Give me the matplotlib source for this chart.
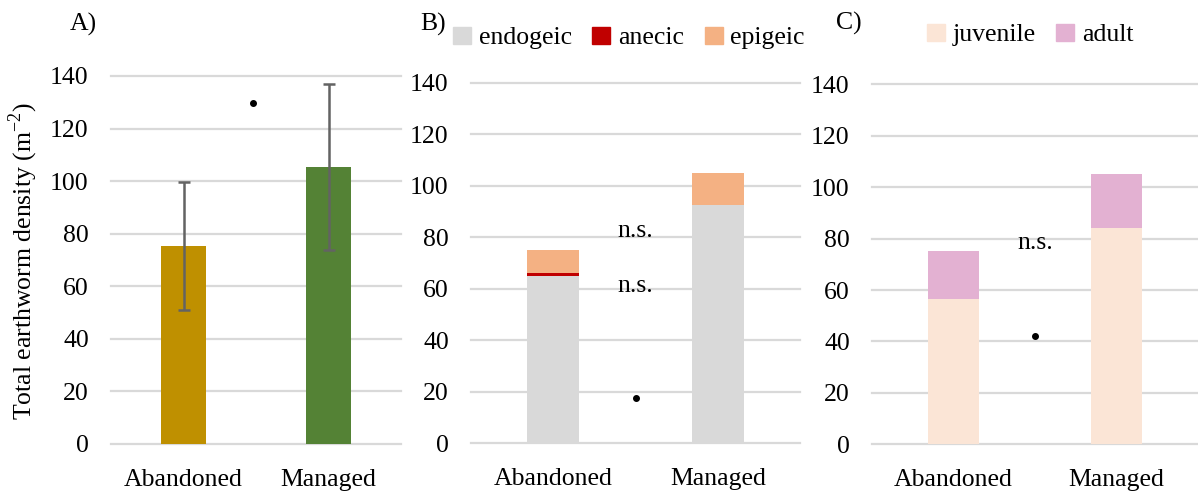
import matplotlib
matplotlib.use("Agg")
import matplotlib.pyplot as plt
from matplotlib.patches import Patch

plt.rcParams['font.family'] = ['Liberation Serif', 'DejaVu Serif']
plt.rcParams['mathtext.fontset'] = 'custom'
plt.rcParams['mathtext.rm'] = 'Liberation Serif'

# ---- data ----
categories = ["Abandoned", "Managed"]
total_density = [75.3, 105.3]
total_err = [24.5, 31.6]

endogeic = [64.9, 92.5]
anecic = [1.2, 0.0]
epigeic = [9.0, 12.5]

juvenile = [56.4, 84.1]
adult = [18.8, 21.1]

yticks = [0, 20, 40, 60, 80, 100, 120, 140]

# significance annotations (y values)
sigA_dot = 129.8
sigB_ns = [82.4, 61.1]
sigB_dot = 17.5
sigC_ns = [78.4]
sigC_dot = 42.2

# ---- styling ----
W, H = 1198, 491
FS = 18.5
grid_col = '#D9D9D9'
col_ab = '#BF9000'
col_man = '#548235'
col_endo = '#D9D9D9'
col_anec = '#C00000'
col_epi = '#F4B183'
col_juv = '#FBE5D6'
col_adult = '#E3B1D2'

fig = plt.figure(figsize=(W / 100, H / 100), dpi=100)


def make_ax(x0, x1, ytop, ybot):
    ax = fig.add_axes([x0 / W, (H - ybot) / H, (x1 - x0) / W, (ybot - ytop) / H])
    ax.set_xlim(-0.5, 1.5)
    ax.set_ylim(0, 140)
    for s in ax.spines.values():
        s.set_visible(False)
    for v in yticks:
        ax.axhline(v, color=grid_col, lw=1.6, zorder=0, clip_on=False)
    ax.set_yticks(yticks)
    ax.set_yticklabels([str(v) for v in yticks], fontsize=FS)
    ax.set_xticks(range(len(categories)))
    ax.set_xticklabels(categories, fontsize=FS)
    ax.tick_params(axis='both', length=0)
    ax.tick_params(axis='y', pad=16)
    ax.tick_params(axis='x', pad=18)
    ax.patch.set_alpha(0)
    return ax


xs = list(range(len(categories)))
bw = 0.315

# Panel A
axA = make_ax(111, 401, 76, 444)
axA.bar(xs, total_density, width=bw, color=[col_ab, col_man], zorder=2)
axA.errorbar(xs, total_density, yerr=total_err, fmt='none', ecolor='#636363',
             elinewidth=1.8, capsize=4.2, capthick=1.8, zorder=3)
axA.plot([0.48], [sigA_dot], 'o', color='black', ms=4, zorder=4)
fig.text(23 / W, 1 - 261 / H, r'Total earthworm density (m$^{-2}$)', rotation=90,
         ha='center', va='center', fontsize=FS)
fig.text(83 / W, 1 - 24 / H, 'A)', ha='center', va='center', fontsize=FS)

# Panel B
axB = make_ax(471, 800, 82.7, 443.3)
axB.bar(xs, endogeic, width=bw, color=col_endo, zorder=2)
b_anec_bottom = endogeic
axB.bar(xs, anecic, width=bw, bottom=b_anec_bottom, color=col_anec, zorder=2)
b_epi_bottom = [e + a for e, a in zip(endogeic, anecic)]
axB.bar(xs, epigeic, width=bw, bottom=b_epi_bottom, color=col_epi, zorder=2)
for y in sigB_ns:
    axB.text(0.5, y, 'n.s.', ha='center', va='center', fontsize=FS)
axB.plot([0.5], [sigB_dot], 'o', color='black', ms=4, zorder=4)
fig.text(433 / W, 1 - 24 / H, 'B)', ha='center', va='center', fontsize=FS)
handlesB = [Patch(color=col_endo, label='endogeic'),
            Patch(color=col_anec, label='anecic'),
            Patch(color=col_epi, label='epigeic')]
fig.legend(handles=handlesB, loc='center', bbox_to_anchor=(629 / W, 1 - 38 / H),
           ncol=3, frameon=False, fontsize=FS, handlelength=0.7, handleheight=0.7,
           handletextpad=0.3, columnspacing=0.8, borderpad=0)

# Panel C
axC = make_ax(872, 1198, 84.3, 444.3)
axC.bar(xs, juvenile, width=bw, color=col_juv, zorder=2)
axC.bar(xs, adult, width=bw, bottom=juvenile, color=col_adult, zorder=2)
for y in sigC_ns:
    axC.text(0.5, y, 'n.s.', ha='center', va='center', fontsize=FS)
axC.plot([0.5], [sigC_dot], 'o', color='black', ms=4, zorder=4)
fig.text(849 / W, 1 - 23 / H, 'C)', ha='center', va='center', fontsize=FS)
handlesC = [Patch(color=col_juv, label='juvenile'),
            Patch(color=col_adult, label='adult')]
fig.legend(handles=handlesC, loc='center', bbox_to_anchor=(1030 / W, 1 - 35 / H),
           ncol=2, frameon=False, fontsize=FS, handlelength=0.7, handleheight=0.7,
           handletextpad=0.3, columnspacing=0.8, borderpad=0)

fig.savefig('out.png', dpi=100)
